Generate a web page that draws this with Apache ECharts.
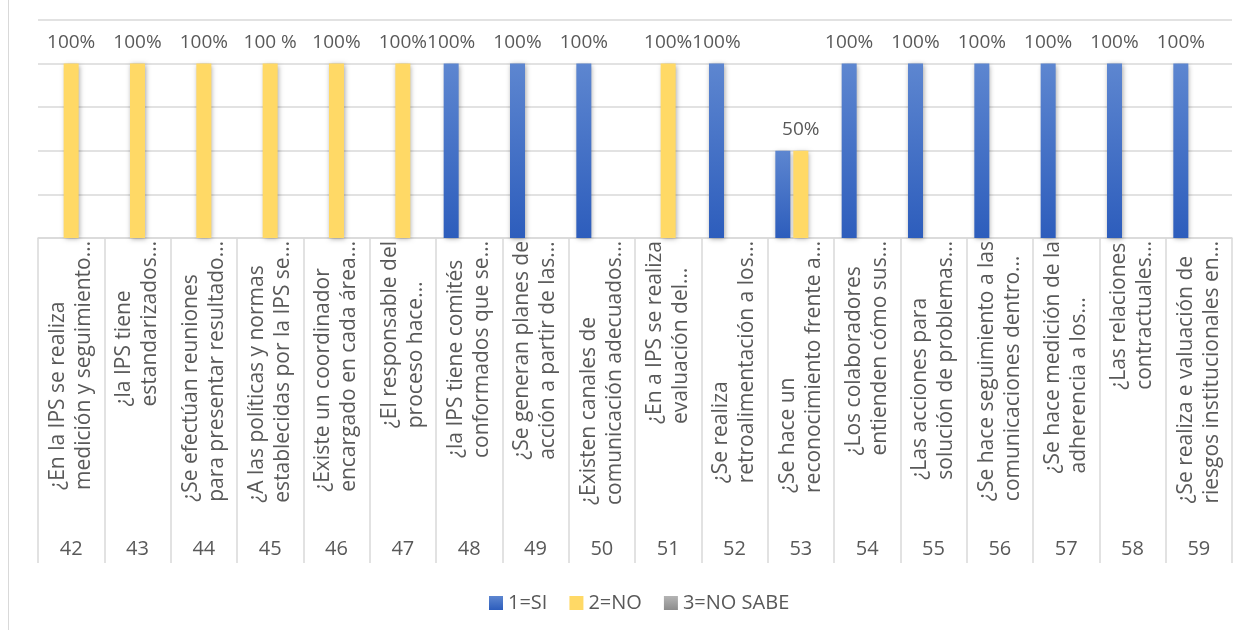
<!DOCTYPE html>
<html>
<head>
<meta charset="utf-8">
<script src="https://cdn.jsdelivr.net/npm/echarts@6/dist/echarts.min.js"></script>
<style>
  body { margin: 0; background: #fff; }
  #frame { position: absolute; left: 8px; top: -1px; width: 1300px; height: 640px; border: 1px solid #d9d9d9; }
  #main { position: absolute; left: 0; top: 0; width: 1246px; height: 630px; }
</style>
</head>
<body>
<div id="frame"></div>
<div id="main"></div>
<script>
// preguntas (nivel 1 del eje) y número de pregunta (nivel 2)
var preguntas = [
    '¿En la IPS se realiza\nmedición y seguimiento…',
    '¿la IPS tiene\nestandarizados…',
    '¿Se efectúan reuniones\npara presentar resultado…',
    '¿A las políticas y normas\nestablecidas por la IPS se…',
    '¿Existe un coordinador\nencargado en cada área…',
    '¿El responsable del\nproceso hace…',
    '¿la IPS tiene comités\nconformados que se…',
    '¿Se generan planes de\nacción a partir de las…',
    '¿Existen canales de\ncomunicación adecuados…',
    '¿En a IPS se realiza\nevaluación del…',
    '¿Se realiza\nretroalimentación a los…',
    '¿Se hace un\nreconocimiento frente a…',
    '¿Los colaboradores\nentienden cómo sus…',
    '¿Las acciones para\nsolución de problemas…',
    '¿Se hace seguimiento a las\ncomunicaciones dentro…',
    '¿Se hace medición de la\nadherencia a los…',
    '¿Las relaciones\ncontractuales…',
    '¿Se realiza e valuación de\nriesgos institucionales en…'
];
var numeros = ['42', '43', '44', '45', '46', '47', '48', '49', '50', '51', '52', '53', '54', '55', '56', '57', '58', '59'];

// valores por serie (proporción)
var si     = [0, 0, 0, 0, 0, 0, 1, 1, 1, 0, 1, 0.5, 1, 1, 1, 1, 1, 1];
var no     = [1, 1, 1, 1, 1, 1, 0, 0, 0, 1, 0, 0.5, 0, 0, 0, 0, 0, 0];
var noSabe = [0, 0, 0, 0, 0, 0, 0, 0, 0, 0, 0, 0, 0, 0, 0, 0, 0, 0];

// etiquetas de datos tal como aparecen
var etiquetasSi = ['', '', '', '', '', '', '100%', '100%', '100%', '', '100%', '', '100%', '100%', '100%', '100%', '100%', '100%'];
var etiquetasNo = ['100%', '100%', '100%', '100 %', '100%', '100%', '', '', '', '100%', '', '50%', '', '', '', '', '', ''];

var chart = echarts.init(document.getElementById('main'));

var fuente = 'Open Sans';
var gris = '#595959';

function degradado(a, b) {
    return new echarts.graphic.LinearGradient(0, 0, 0, 1, [
        { offset: 0, color: a },
        { offset: 1, color: b }
    ]);
}

var sombra = {
    shadowBlur: 5,
    shadowColor: 'rgba(0,0,0,0.35)',
    shadowOffsetX: 1,
    shadowOffsetY: 1
};

function etiqueta(lista) {
    return {
        show: true,
        position: 'top',
        distance: 12,
        fontFamily: fuente,
        fontSize: 19,
        color: gris,
        formatter: function (p) { return lista[p.dataIndex]; }
    };
}

var option = {
    animation: false,
    grid: { left: 38, right: 14, top: 20, bottom: 392, outerBoundsMode: 'none' },
    legend: {
        data: ['1=SI', '2=NO', '3=NO SABE'],
        left: 484,
        top: 588,
        icon: 'rect',
        itemWidth: 14,
        itemHeight: 14,
        itemGap: 22,
        textStyle: { fontFamily: fuente, fontSize: 20, color: gris }
    },
    xAxis: [{
        type: 'category',
        data: preguntas,
        axisLine: { lineStyle: { color: '#d9d9d9', width: 1.5 } },
        axisTick: { show: true, length: 325, lineStyle: { color: '#d9d9d9', width: 1.5 } },
        axisLabel: {
            interval: 0,
            rotate: 90,
            margin: 3,
            fontFamily: fuente,
            fontSize: 21,
            lineHeight: 26,
            color: gris,
            formatter: function (v) {
                return v.split('\n').map(function (s) { return '{q|' + s + '}'; }).join('\n');
            },
            rich: {
                q: { align: 'left', fontFamily: fuente, fontSize: 21, lineHeight: 26, color: gris }
            }
        }
    }, {
        type: 'category',
        data: numeros,
        position: 'bottom',
        offset: 295,
        axisLine: { show: false },
        axisTick: { show: false },
        axisLabel: { interval: 0, margin: 6, fontFamily: fuente, fontSize: 20, color: gris }
    }],
    yAxis: {
        type: 'value',
        min: 0,
        max: 1.25,
        interval: 0.25,
        axisLabel: { show: false },
        axisLine: { show: false },
        axisTick: { show: false },
        splitLine: { lineStyle: { color: '#d9d9d9', width: 1.5 } }
    },
    series: [{
        name: '1=SI',
        type: 'bar',
        barWidth: 15,
        barGap: '20%',
        data: si,
        itemStyle: Object.assign({ color: degradado('#5d86d0', '#2d5dbc') }, sombra),
        label: etiqueta(etiquetasSi)
    }, {
        name: '2=NO',
        type: 'bar',
        barWidth: 15,
        barGap: '20%',
        data: no,
        itemStyle: Object.assign({ color: '#ffd966' }, sombra),
        label: etiqueta(etiquetasNo)
    }, {
        name: '3=NO SABE',
        type: 'bar',
        barWidth: 15,
        barGap: '20%',
        data: noSabe,
        itemStyle: Object.assign({ color: degradado('#b4b4b4', '#8c8c8c') }, sombra),
        label: { show: false }
    }]
};

chart.setOption(option);
</script>
</body>
</html>
